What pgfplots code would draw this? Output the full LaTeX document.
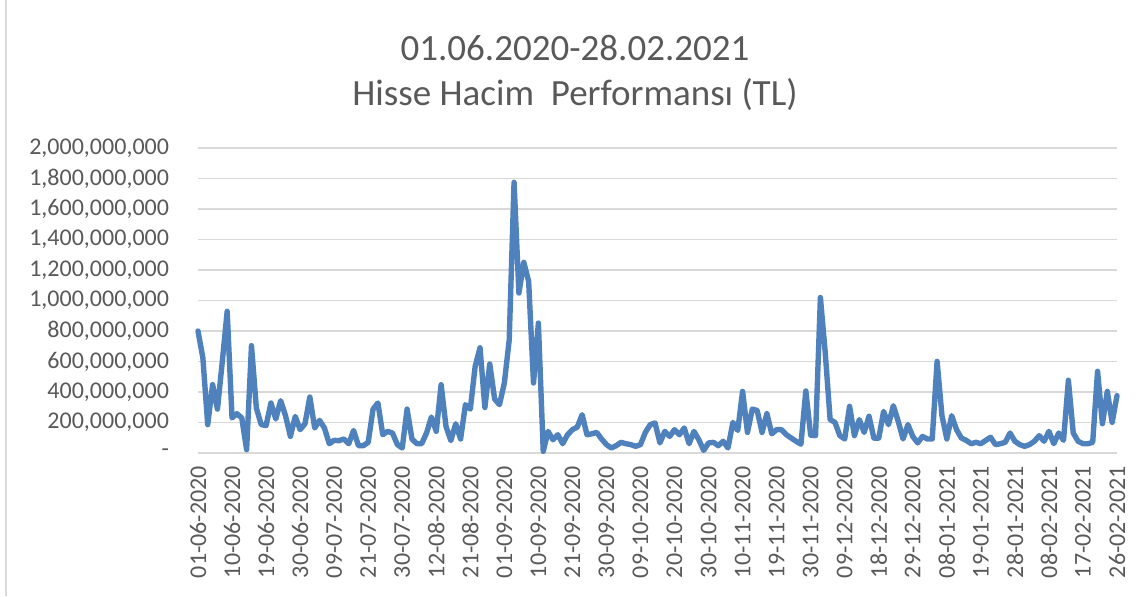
\documentclass[border=0pt]{standalone}
\usepackage{fontspec}
\setmainfont{Carlito}
\usepackage{pgfplots}
\pgfplotsset{compat=1.18}
\definecolor{lineblue}{HTML}{4F81BD}
\definecolor{txtgray}{HTML}{595959}
\definecolor{gridgray}{HTML}{D9D9D9}
\begin{document}
\begin{tikzpicture}
\useasboundingbox (-99pt,-71.5pt) rectangle (470pt,226.5pt);
\draw[gridgray, line width=0.6pt] (-96pt,-71.5pt) -- (-96pt,226.5pt);
\begin{axis}[
  at={(0,0)}, anchor=south west,
  scale only axis, width=459.5pt, height=152.5pt,
  xmin=0, xmax=189, ymin=0, ymax=2000,
  axis line style={draw=none},
  tick style={draw=none},
  ymajorgrids, grid style={gridgray, line width=0.6pt},
  ytick={0,200,...,2000},
  yticklabels={{-\hspace{0.55em}},{200,000,000},{400,000,000},{600,000,000},{800,000,000},{1,000,000,000},{1,200,000,000},{1,400,000,000},{1,600,000,000},{1,800,000,000},{2,000,000,000}},
  xtick={0,7,...,189},
  xticklabels={01-06-2020,10-06-2020,19-06-2020,30-06-2020,09-07-2020,21-07-2020,30-07-2020,12-08-2020,21-08-2020,01-09-2020,10-09-2020,21-09-2020,30-09-2020,09-10-2020,20-10-2020,30-10-2020,10-11-2020,19-11-2020,30-11-2020,09-12-2020,18-12-2020,29-12-2020,08-01-2021,19-01-2021,28-01-2021,08-02-2021,17-02-2021,26-02-2021},
  ticklabel style={font=\fontsize{12}{14}\selectfont, text=txtgray},
  yticklabel style={anchor=east, xshift=-11pt},
  xticklabel style={rotate=90, anchor=east, xshift=-3pt},
  clip=false,
]
\addplot[lineblue, line width=2.7pt, line join=round, line cap=round] coordinates {
(0,800) (1,624) (2,186) (3,448) (4,288) (5,600) (6,929) (7,230) (8,258) (9,230)
(10,22) (11,704) (12,295) (13,186) (14,180) (15,328) (16,223) (17,343) (18,245) (19,109)
(20,240) (21,153) (22,192) (23,367) (24,164) (25,214) (26,164) (27,61) (28,83) (29,81)
(30,92) (31,61) (32,148) (33,48) (34,48) (35,70) (36,288) (37,328) (38,120) (39,142)
(40,131) (41,55) (42,33) (43,288) (44,92) (45,61) (46,61) (47,131) (48,236) (49,142)
(50,448) (51,175) (52,81) (53,192) (54,92) (55,317) (56,288) (57,568) (58,690) (59,298)
(60,584) (61,354) (62,317) (63,459) (64,740) (65,1775) (66,1049) (67,1250) (68,1126) (69,459)
(70,852) (71,11) (72,142) (73,87) (74,120) (75,61) (76,120) (77,153) (78,170) (79,251)
(80,120) (81,126) (82,135) (83,92) (84,55) (85,33) (86,48) (87,70) (88,61) (89,55)
(90,44) (91,55) (92,135) (93,186) (94,197) (95,66) (96,142) (97,109) (98,153) (99,120)
(100,164) (101,61) (102,142) (103,87) (104,17) (105,66) (106,70) (107,48) (108,77) (109,33)
(110,201) (111,148) (112,404) (113,135) (114,288) (115,279) (116,135) (117,258) (118,126) (119,153)
(120,153) (121,120) (122,98) (123,77) (124,58) (125,407) (126,117) (127,114) (128,1020) (129,656)
(130,219) (131,201) (132,114) (133,92) (134,306) (135,114) (136,219) (137,135) (138,241) (139,98)
(140,98) (141,273) (142,186) (143,310) (144,208) (145,92) (146,186) (147,109) (148,66) (149,109)
(150,92) (151,92) (152,601) (153,245) (154,92) (155,245) (156,153) (157,98) (158,83) (159,61)
(160,70) (161,61) (162,83) (163,103) (164,55) (165,61) (166,70) (167,131) (168,77) (169,55)
(170,44) (171,55) (172,77) (173,114) (174,77) (175,142) (176,61) (177,131) (178,83) (179,477)
(180,131) (181,77) (182,61) (183,61) (184,70) (185,536) (186,192) (187,404) (188,201) (189,376)
};
\end{axis}
\node[text=txtgray, font=\fontsize{18.5}{22}\selectfont] at (188.5pt,202.5pt) {01.06.2020-28.02.2021};
\node[text=txtgray, font=\fontsize{18.5}{22}\selectfont] at (188.5pt,179pt) {Hisse Hacim\ \ Performansı (TL)};
\end{tikzpicture}
\end{document}
